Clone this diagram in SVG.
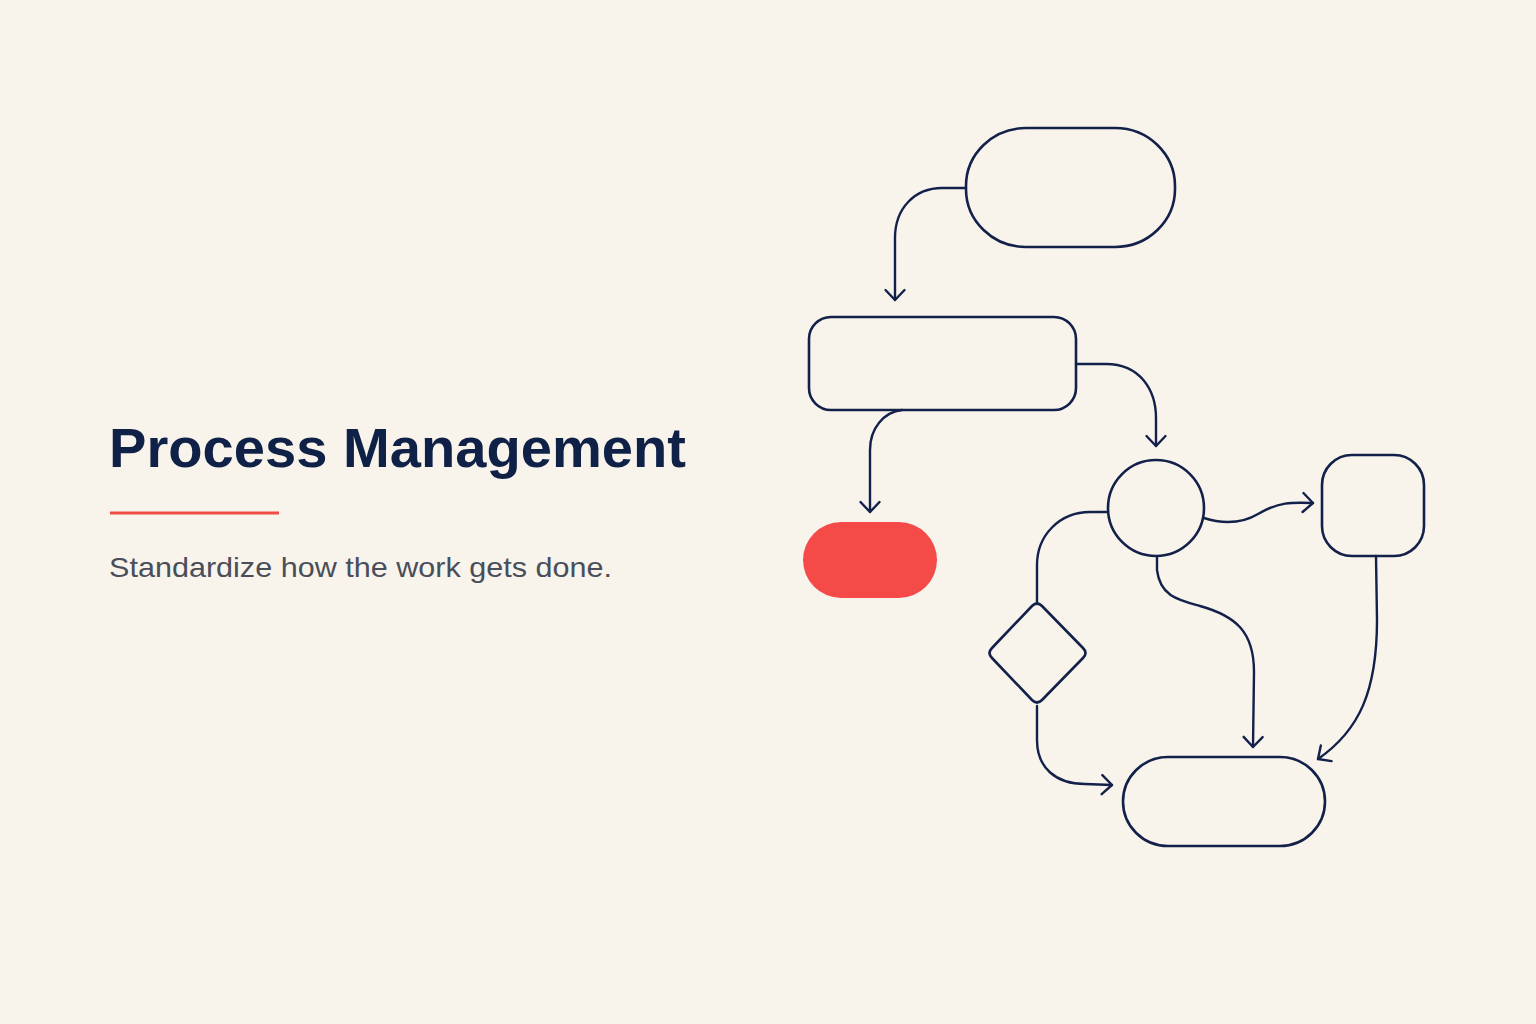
<svg xmlns="http://www.w3.org/2000/svg" width="1536" height="1024" viewBox="0 0 1536 1024">
<style>
.node{fill:none;stroke:#13214a;stroke-width:2.6;stroke-linejoin:round}
.conn{fill:none;stroke:#13214a;stroke-width:2.4;stroke-linecap:round;stroke-linejoin:round}
.title{font-family:"Liberation Sans",Arial,sans-serif;font-weight:700;font-size:56px;fill:#0f2147}
.sub{font-family:"Liberation Sans",Arial,sans-serif;font-size:28px;fill:#4a4e59}
</style>
<defs>
<marker id="arr" markerUnits="userSpaceOnUse" viewBox="-12 -12 14 24" refX="0" refY="0" markerWidth="14" markerHeight="24" orient="auto">
<path d="M-10,-9.5 L0,0 L-10,9.5" fill="none" stroke="#13214a" stroke-width="2.4" stroke-linecap="round" stroke-linejoin="round"/>
</marker>
</defs>
<rect width="1536" height="1024" fill="#f8f4ec"/>
<g id="heading">
<text class="title" x="109" y="467" textLength="577" lengthAdjust="spacingAndGlyphs">Process Management</text>
<line x1="110" y1="513" x2="279" y2="513" stroke="#f04b45" stroke-width="3"/>
<text class="sub" x="109" y="577" textLength="503" lengthAdjust="spacingAndGlyphs">Standardize how the work gets done.</text>
</g>
<g id="connectors">
<path class="conn" d="M966,188 L942,188 C915,188 895,208 895,238 L895,300" marker-end="url(#arr)"/>
<path class="conn" d="M1076,364 L1106,364 C1140,364 1156,390 1156,418 L1156,446" marker-end="url(#arr)"/>
<path class="conn" d="M902,410 C884,412 870,428 870,450 L870,512" marker-end="url(#arr)"/>
<path class="conn" d="M1204,518 C1216,522 1238,526 1258,514 C1278,502 1292,502 1313,503" marker-end="url(#arr)"/>
<path class="conn" d="M1108,512 L1090,512 C1060,512 1037,535 1037,565 L1037,602"/>
<path class="conn" d="M1037,706 L1037,740 C1037,768 1056,784 1085,784 L1112,785" marker-end="url(#arr)"/>
<path class="conn" d="M1157,557 L1157,570 C1160,596 1178,600 1200,606 C1236,616 1254,632 1254,672 L1253,747" marker-end="url(#arr)"/>
<path class="conn" d="M1376,556 L1377,620 C1377,690 1360,730 1318,759" marker-end="url(#arr)"/>
</g>
<g id="node-start"><rect class="node" x="966" y="128" width="209" height="119" rx="60" ry="58"/></g>
<g id="node-process"><rect class="node" x="809" y="317" width="267" height="93" rx="22"/></g>
<g id="node-end-red"><rect x="803" y="522" width="134" height="76" rx="38" fill="#f44b49"/></g>
<g id="node-circle"><circle class="node" cx="1156" cy="508" r="48"/></g>
<g id="node-square"><rect class="node" x="1322" y="455" width="102" height="101" rx="30"/></g>
<g id="node-decision"><path class="node" d="M1032,606 Q1037,601 1042,606 L1083,648 Q1088,653 1083,658 L1042,700 Q1037,705 1032,700 L992,658 Q987,653 992,648 Z"/></g>
<g id="node-final"><rect class="node" x="1123" y="757" width="202" height="89" rx="45"/></g>
</svg>
